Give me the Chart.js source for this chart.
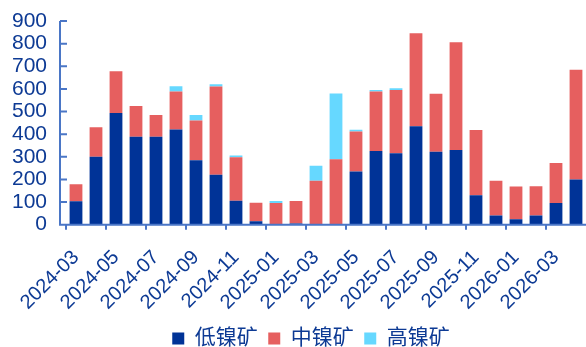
<!DOCTYPE html>
<html>
<head>
<meta charset="utf-8">
<script src="https://cdn.jsdelivr.net/npm/chart.js@4.4.1/dist/chart.umd.min.js"></script>
<style>
  html, body { margin: 0; padding: 0; background: #fff; }
  #wrap { width: 586px; height: 347px; }
</style>
</head>
<body>
<div id="wrap"><canvas id="oreChart" width="586" height="347"></canvas></div>
<script>
// Monthly categories
const months = [
  '2024-03', '2024-04', '2024-05', '2024-06', '2024-07', '2024-08', '2024-09',
  '2024-10', '2024-11', '2024-12', '2025-01', '2025-02', '2025-03', '2025-04',
  '2025-05', '2025-06', '2025-07', '2025-08', '2025-09', '2025-10', '2025-11',
  '2025-12', '2026-01', '2026-02', '2026-03', '2026-04'
];

// Stacked series
const lowNickel = [103, 300, 493, 388, 388, 420, 285, 220, 105, 15, 0, 5, 0, 0,
  235, 325, 315, 435, 322, 330, 130, 40, 24, 40, 96, 200];
const midNickel = [75, 130, 185, 136, 97, 168, 175, 390, 193, 82, 96, 99, 194, 289,
  177, 263, 280, 411, 257, 476, 288, 154, 145, 130, 176, 485];
const highNickel = [0, 0, 0, 0, 0, 24, 25, 10, 8, 0, 8, 0, 66, 291,
  7, 7, 8, 0, 0, 0, 0, 0, 0, 0, 0, 0];

const seriesNames = ['低镍矿', '中镍矿', '高镍矿'];
const yTicks = [0, 100, 200, 300, 400, 500, 600, 700, 800, 900];

const TEXT_COLOR = '#0d3a94';
const AXIS_COLOR = '#4a76c6';
const FONT = "'Liberation Sans', Arial, 'Noto Sans CJK SC', sans-serif";

// y axis line sits a little left of the plot, with inward tick marks
const axisLines = {
  id: 'axisLines',
  afterLayout(chart) {
    // nudge the legend row to the right
    chart.legend.left += 18;
    chart.legend.right += 18;
  },
  afterDatasetsDraw(chart) {
    const { ctx, chartArea, scales: { y } } = chart;
    const x0 = chartArea.left - 6;
    ctx.save();
    ctx.strokeStyle = AXIS_COLOR;
    ctx.lineWidth = 2;
    ctx.beginPath();
    ctx.moveTo(x0, y.getPixelForValue(yTicks[yTicks.length - 1]));
    ctx.lineTo(x0, chartArea.bottom);
    ctx.lineTo(chartArea.right, chartArea.bottom);
    yTicks.forEach(v => {
      const py = y.getPixelForValue(v);
      ctx.moveTo(x0, py);
      ctx.lineTo(x0 + 7, py);
    });
    ctx.stroke();
    ctx.restore();
  }
};

const ctx = document.getElementById('oreChart').getContext('2d');
new Chart(ctx, {
  type: 'bar',
  data: {
    labels: months,
    datasets: [
      { label: seriesNames[0], data: lowNickel, backgroundColor: '#003397' },
      { label: seriesNames[1], data: midNickel, backgroundColor: '#e65f5f' },
      { label: seriesNames[2], data: highNickel, backgroundColor: '#66d8ff' }
    ]
  },
  options: {
    responsive: false,
    animation: false,
    layout: { padding: { top: 21, left: 0, right: 0, bottom: -12 } },
    datasets: {
      bar: { barPercentage: 1, categoryPercentage: 0.64, borderWidth: 0 }
    },
    plugins: {
      legend: {
        position: 'bottom',
        labels: {
          boxWidth: 12,
          boxHeight: 12,
          padding: 10.5,
          color: TEXT_COLOR,
          font: { family: FONT, size: 21 }
        }
      },
      tooltip: { enabled: false }
    },
    scales: {
      x: {
        stacked: true,
        offset: true,
        border: { display: false },
        grid: {
          offset: true,
          drawOnChartArea: false,
          drawTicks: true,
          tickLength: 5,
          lineWidth: 2,
          color: c => (c.index % 2 === 0 ? AXIS_COLOR : 'rgba(0,0,0,0)')
        },
        ticks: {
          autoSkip: false,
          maxRotation: 45,
          minRotation: 45,
          padding: 16,
          color: TEXT_COLOR,
          font: { family: FONT, size: 20 },
          callback: (v, i) => (i % 2 === 0 ? months[i] : '')
        },
        afterFit(scale) {
          scale.paddingLeft = 0;
          scale.paddingRight = 0;
          scale.height -= 13;
        }
      },
      y: {
        stacked: true,
        min: 0,
        max: 900,
        border: { display: false },
        grid: { display: false, drawTicks: false },
        ticks: {
          stepSize: 100,
          autoSkip: false,
          padding: 19,
          color: TEXT_COLOR,
          font: { family: FONT, size: 21 }
        },
        afterFit(scale) {
          scale.width = 66;
          scale.paddingTop = 0;
          scale.paddingBottom = 0;
        }
      }
    }
  },
  plugins: [axisLines]
});
</script>
</body>
</html>
